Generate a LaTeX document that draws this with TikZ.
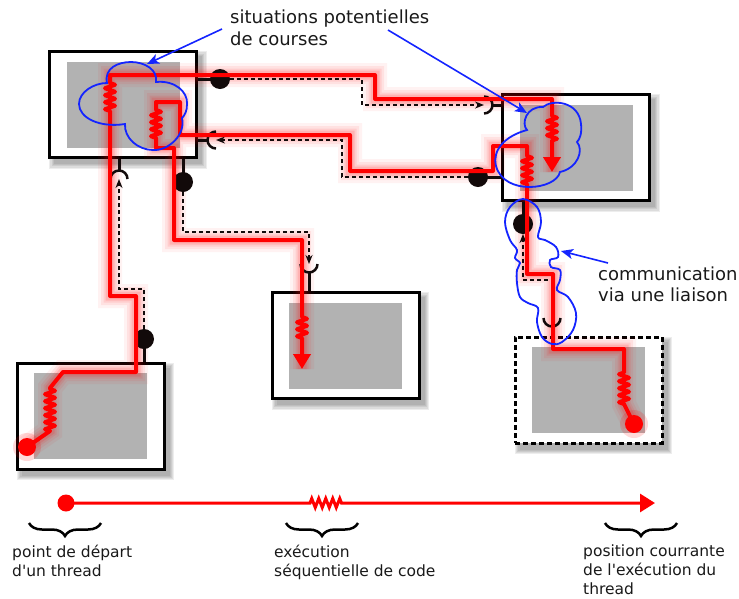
\documentclass[tikz,border=0pt]{standalone}
\usepackage{fontspec}
\newfontfamily\diagfont{DejaVu Sans}
\usetikzlibrary{arrows.meta,decorations.pathmorphing,decorations.pathreplacing}
\definecolor{panelgray}{RGB}{178,178,178}
\definecolor{raceblue}{RGB}{20,36,255}
\definecolor{inkblack}{RGB}{18,10,10}
\pgfdeclarelayer{shadowlayer}
\pgfsetlayers{shadowlayer,main}

% a segment of sequential code: zigzag for the thread itself, straight for its glow
\newcommand\springcore[1]{decorate[springdec]{-- #1}}
\newcommand\springplain[1]{-- #1}
\let\springto\springcore

% route of the first thread: from its start in unit C to its current position in unit B
\newcommand\threadOneRoute{(originC) -- (50,431) \springto{(50,388)} -- (63,372) -- (136,372) -- (136,296) -- (110,296) -- (110,111) \springto{(110,81)} -- (110,75) -- (375,75) -- (375,99) -- (552,99) -- (552,116) \springto{(552,143)} -- (headB)}
% route of the second thread: from its start in unit E to its current position in unit D
\newcommand\threadTwoRoute{(originE) -- (624,404) \springto{(624,371)} -- (624,349) -- (553,349) -- (553,274) -- (527,274) -- (527,184) \springto{(527,153)} -- (527,146) -- (493,146) -- (493,171) -- (350,171) -- (350,135) -- (180,135) -- (180,102) -- (156,102) -- (156,110) \springto{(156,138)} -- (156,148) -- (174,148) -- (174,240) -- (302,240) -- (302,317) \springto{(302,341)} -- (headD)}

\tikzset{
  unitframe/.style={draw=black,line width=3pt,fill=white,minimum width=147pt,minimum height=106pt,inner sep=0pt},
  dashedframe/.style={unitframe,dash pattern=on 5pt off 3pt},
  unitpanel/.style={fill=panelgray,minimum width=113pt,minimum height=86pt,inner sep=0pt},
  springdec/.style={decoration={zigzag,segment length=7pt,amplitude=5pt}},
  threadglow/.style={line join=round,line cap=round,
    preaction={draw=red,opacity=0.05,line width=24pt},
    preaction={draw=red,opacity=0.07,line width=18pt},
    preaction={draw=red,opacity=0.09,line width=13pt},
    preaction={draw=red,opacity=0.13,line width=9pt}},
  threadcore/.style={draw=red,line width=4pt,line join=round},
  linkline/.style={draw=inkblack,line width=2pt,dash pattern=on 4pt off 3pt,-{Stealth[length=9pt,width=7pt]}},
  stemline/.style={draw=inkblack,line width=3pt},
  sock/.style={draw=inkblack,line width=2.5pt},
  portball/.style={circle,fill=inkblack,minimum size=20pt,inner sep=0pt,outer sep=0pt},
  startdot/.style={circle,fill=red,minimum size=18pt,inner sep=0pt,outer sep=0pt},
  raceoutline/.style={draw=raceblue,line width=1.8pt},
  notearrow/.style={draw=raceblue,line width=1.6pt,-{Stealth[length=12pt,width=10pt,inset=3pt]}},
  captiontext/.style={font=\diagfont\fontsize{18}{22}\selectfont,text=black!90,anchor=base west,inner sep=0pt},
  legendtext/.style={font=\diagfont\fontsize{15.5}{19}\selectfont,text=black!90,anchor=base west,inner sep=0pt},
  bracemark/.style={draw=black,line width=2.5pt,decorate,decoration={brace,amplitude=13pt,mirror}},
  pics/socket/.style={code={\draw[sock] (0,-8.5) .. controls (4.7,-8.5) and (8.5,-4.7) .. (8.5,0) .. controls (8.5,4.7) and (4.7,8.5) .. (0,8.5);}}
}

\begin{document}
\begin{tikzpicture}[x=1pt,y=-1pt]
\useasboundingbox (0,0) rectangle (739,598);

% processing units
\node[unitframe] (boxA) at (123,104.5) {};
\node[unitframe] (boxB) at (576,147.5) {};
\node[unitframe] (boxC) at (90.5,416) {};
\node[unitframe] (boxD) at (345.5,345.5) {};
\node[dashedframe] (boxE) at (588.5,390) {};
\foreach \u in {A,B,C,D,E}{\node[unitpanel] (panel\u) at (box\u.center) {};}

% soft drop shadows behind the units
\begin{pgfonlayer}{shadowlayer}
\foreach \u in {A,B,C,D,E}{
  \foreach \g in {0,1.2,2.4,3.6,4.8}{
    \fill[black,opacity=0.07] ([shift={(6-\g,6-\g)}]box\u.north west) rectangle ([shift={(4+\g,5+\g)}]box\u.south east);
  }
}
\end{pgfonlayer}

% thread ends
\coordinate (originC) at (27,447);
\coordinate (originE) at (634,424);
\coordinate (headB) at (552,172);
\coordinate (headD) at (302,369);

% glow of the threads
\let\springto\springplain
\path[threadglow] \threadOneRoute;
\path[threadglow] \threadTwoRoute;
\let\springto\springcore
\fill[red,opacity=0.15] (originC) circle (14);
\fill[red,opacity=0.15] (originE) circle (14);

% ports: balls and sockets with their stems
\coordinate (pA1) at (220,79);
\coordinate (pB2) at (478,177);
\coordinate (pC3) at (144,339);
\coordinate (pA4) at (183,182);
\coordinate (pB5) at (523,224);
\coordinate (sB1) at (484,105);
\coordinate (sA2) at (216,140);
\coordinate (sA3) at (119,179);
\coordinate (sD4) at (309,264);
\coordinate (sE5) at (552,318);

\draw[stemline] (boxA.east |- pA1) -- (pA1);
\draw[stemline] (boxB.west |- pB2) -- (pB2);
\draw[stemline] (pC3 |- boxC.north) -- (pC3);
\draw[stemline] (pA4 |- boxA.south) -- (pA4);
\draw[stemline] (pB5 |- boxB.south) -- (pB5);
\draw[stemline] ([xshift=8.5pt]sB1) -- (boxB.west |- sB1);
\draw[stemline] ([xshift=-8.5pt]sA2) -- (boxA.east |- sA2);
\draw[stemline] ([yshift=8.5pt]sA3) -- (sA3 |- boxA.south);
\draw[stemline] ([yshift=-8.5pt]sD4) -- (sD4 |- boxD.north);
\draw[stemline] ([yshift=-8.5pt]sE5) -- (sE5 |- boxE.north);

\pic at (sB1) {socket};
\pic[rotate=180] at (sA2) {socket};
\pic[rotate=90] at (sA3) {socket};
\pic[rotate=-90] at (sD4) {socket};
\pic[rotate=-90] at (sE5) {socket};

\node[portball] (bA1) at (pA1) {};
\node[portball] (bB2) at (pB2) {};
\node[portball] (bC3) at (pC3) {};
\node[portball] (bA4) at (pA4) {};
\node[portball] (bB5) at (pB5) {};

% communication links
\draw[linkline] (bA1) -- (362,79) -- (362,105) -- (sB1);
\draw[linkline] (bB2) -- (342,177) -- (342,140) -- (sA2);
\draw[linkline] (bC3) -- (144,289) -- (119,289) -- (sA3);
\draw[linkline] (bA4) -- (183,232) -- (309,232) -- (sD4);
\draw[linkline] (sE5) -- (552,280) -- (523,280) -- (bB5);

% the threads
\draw[threadcore,-{Triangle[length=15pt,width=17pt]}] \threadOneRoute;
\draw[threadcore,-{Triangle[length=15pt,width=17pt]}] \threadTwoRoute;
\node[startdot] (dotC) at (originC) {};
\node[startdot] (dotE) at (originE) {};

% race situations
\draw[raceoutline] (107,83) .. controls (104,68) and (118,62) .. (131,62) .. controls (145,62) and (158,70) .. (156,82)
  .. controls (175,80) and (188,92) .. (187,104) .. controls (187,111) and (185,115) .. (182,118)
  .. controls (186,135) and (168,151) .. (153,150) .. controls (138,150) and (124,138) .. (125,124)
  .. controls (100,128) and (79,118) .. (79,104) .. controls (79,92) and (94,83) .. (107,83) -- cycle;
\draw[raceoutline] (543,107) .. controls (552,99) and (579,101) .. (581,124) .. controls (582,133) and (580,139) .. (577,142)
  .. controls (584,150) and (578,168) .. (560,172)
  .. controls (556,190) and (504,196) .. (496,166) .. controls (492,150) and (505,136) .. (527,130)
  .. controls (521,124) and (526,106) .. (543,107) -- cycle;
\draw[raceoutline] plot[smooth cycle,tension=0.6] coordinates {
  (523,199) (537,207) (541,222) (538,237) (545,240) (556,247) (558,257) (550,260)
  (551,267) (560,270) (560,280) (557,290) (568,297) (576,313) (573,330) (562,342)
  (552,344) (542,337) (537,322) (538,308) (528,303) (520,297) (517,283) (517,270)
  (520,263) (515,258) (517,250) (510,240) (505,222) (510,207)};

% captions and their pointers
\node[captiontext] (raceLine1) at (230,23) {situations potentielles};
\node[captiontext] (raceLine2) at (230,45) {de courses};
\node[captiontext] (linkLine1) at (598,280) {communication};
\node[captiontext] (linkLine2) at (598,301) {via une liaison};
\coordinate (raceFromA) at (222,29);
\coordinate (raceFromB) at (388,30);
\coordinate (linkFrom) at (608,263);
\coordinate (raceAtA) at (147,64);
\coordinate (raceAtB) at (527,113);
\coordinate (linkAt) at (561,251);
\draw[notearrow] (raceFromA) -- (raceAtA);
\draw[notearrow] (raceFromB) -- (raceAtB);
\draw[notearrow] (linkFrom) -- (linkAt);

% legend
\node[startdot,minimum size=17pt] (legStart) at (66,503) {};
\coordinate (legSpringA) at (310,503);
\coordinate (legSpringB) at (342,503);
\coordinate (legEnd) at (655,503);
\draw[draw=red,line width=3pt,-{Triangle[length=15pt,width=18pt]}] (legStart.center) -- (legSpringA)
  decorate[decoration={zigzag,segment length=7pt,amplitude=4.5pt}]{-- (legSpringB)} -- (legEnd);
\coordinate (braceAL) at (29,523);  \coordinate (braceAR) at (101,523);
\coordinate (braceBL) at (286,523); \coordinate (braceBR) at (358,523);
\coordinate (braceCL) at (605,523); \coordinate (braceCR) at (677,523);
\draw[bracemark] (braceAL) -- (braceAR);
\draw[bracemark] (braceBL) -- (braceBR);
\draw[bracemark] (braceCL) -- (braceCR);
\node[legendtext] (legA1) at (12,557) {point de départ};
\node[legendtext] (legA2) at (12,576) {d'un thread};
\node[legendtext] (legB1) at (274,557) {exécution};
\node[legendtext] (legB2) at (274,576) {séquentielle de code};
\node[legendtext] (legC1) at (583,556) {position courrante};
\node[legendtext] (legC2) at (583,575) {de l'exécution du};
\node[legendtext] (legC3) at (583,594) {thread};
\end{tikzpicture}
\end{document}
